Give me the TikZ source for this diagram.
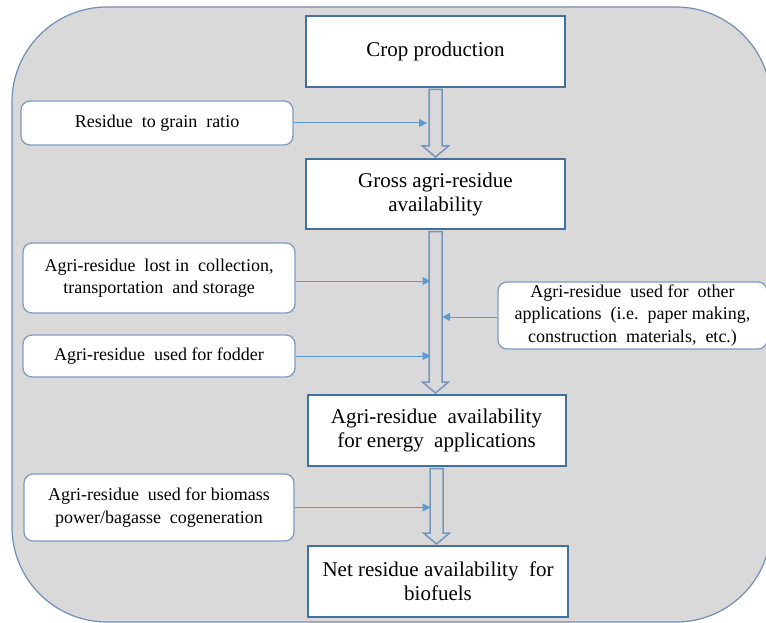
\documentclass[tikz,border=0pt]{standalone}
\usepackage{fontspec}
\setmainfont{Liberation Serif}
\usetikzlibrary{arrows.meta,calc}
\definecolor{bgfill}{HTML}{D9D9D9}
\definecolor{framecol}{HTML}{6F8FB5}
\definecolor{boxline}{HTML}{41719C}
\definecolor{sideline}{HTML}{7F9CC0}
\definecolor{thinarrow}{HTML}{5B9BD5}
\definecolor{blockline}{HTML}{7396C0}
\tikzset{
  mainbox/.style={draw=boxline, line width=2pt, fill=white, align=center,
    font=\fontsize{21}{24}\selectfont, inner sep=0pt},
  sidebox/.style={draw=sideline, line width=1.3pt, fill=white, align=center,
    rounded corners=9pt, font=\fontsize{18}{22.5}\selectfont, inner sep=0pt},
  thinarr/.style={draw=thinarrow, line width=1pt,
    -{Triangle[length=8pt,width=8pt]}},
  blockstyle/.style={draw=blockline, line width=1.5pt, fill=bgfill, line join=miter},
}
\newcommand\blockarrow[2]{%
  \draw[blockstyle] let \p1=(#1.south), \p2=(#2.north) in
   (\x1-6.5pt,\y1-1.5pt) -- (\x1+6.5pt,\y1-1.5pt) -- (\x1+6.5pt,\y2+12pt)
   -- (\x1+13pt,\y2+12pt) -- (\x1,\y2+1pt) -- (\x1-13pt,\y2+12pt)
   -- (\x1-6.5pt,\y2+12pt) -- cycle;}
\begin{document}
\begin{tikzpicture}[x=1pt,y=1pt]
\useasboundingbox (0,0) rectangle (766,-623);
\draw[fill=bgfill, draw=framecol, line width=1.2pt, rounded corners=95pt]
  (12,-7) rectangle (771,-622);

\node[mainbox, minimum width=259pt, minimum height=71pt] (crop) at (435.5,-51.5) {Crop production};
\node[mainbox, minimum width=259pt, minimum height=70pt] (gross) at (435.5,-194) {Gross agri-residue\\availability};
\node[mainbox, minimum width=258pt, minimum height=71pt] (energy) at (436.5,-430.5) {Agri-residue\ \ availability\\for energy\ \ applications};
\node[mainbox, minimum width=260pt, minimum height=71pt] (net) at (438,-581.5) {Net residue availability\ \ for\\biofuels};

\node[sidebox, minimum width=272pt, minimum height=44pt] (rgr) at (157,-123) {Residue\ \ to grain\ \ ratio};
\node[sidebox, minimum width=272pt, minimum height=70pt] (lost) at (159,-278) {Agri-residue\ \ lost in\ \ collection,\\transportation\ \ and storage};
\node[sidebox, minimum width=272pt, minimum height=42pt] (fodder) at (159,-356) {Agri-residue\ \ used for fodder};
\node[sidebox, minimum width=270pt, minimum height=67pt] (biomass) at (159,-507.5) {Agri-residue\ \ used for biomass\\power/bagasse\ \ cogeneration};
\node[sidebox, minimum width=269pt, minimum height=67pt] (other) at (632.5,-315.5) {Agri-residue\ \ used for\ \ other\\applications\ \ (i.e.\ \ paper making,\\construction\ \ materials,\ \ etc.)};

\blockarrow{crop}{gross}
\blockarrow{gross}{energy}
\blockarrow{energy}{net}

\coordinate (s1L) at (427,-123);
\coordinate (s2L) at (430.5,0);
\coordinate (s2R) at (442,0);
\coordinate (s3L) at (430.5,0);

\draw[thinarr] (rgr.east) -- (rgr.east -| s1L);
\draw[thinarr] ($(lost.east)+(0,-3)$) -- ($(lost.east -| s2L)+(0,-3)$);
\draw[thinarr] (fodder.east) -- (fodder.east -| s2L);
\draw[thinarr] ($(other.west)+(0,-1.5)$) -- ($(other.west -| s2R)+(0,-1.5)$);
\draw[thinarr] (biomass.east) -- (biomass.east -| s3L);
\end{tikzpicture}
\end{document}
